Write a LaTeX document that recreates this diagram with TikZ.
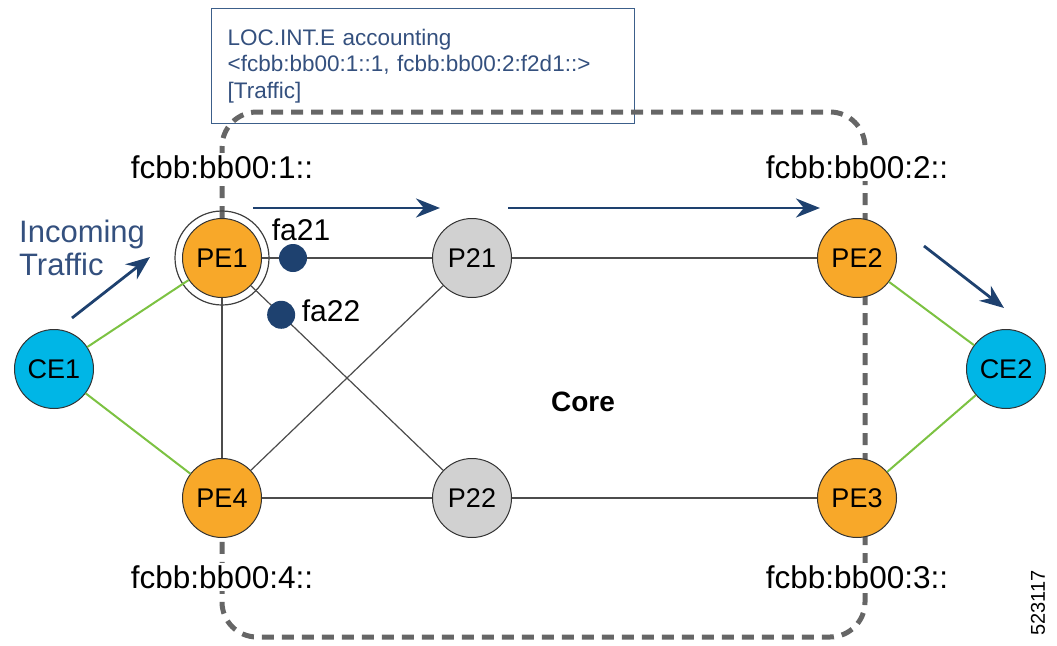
\documentclass[tikz,border=0pt]{standalone}
\usepackage{fontspec}
\setmainfont{Liberation Sans}
\usetikzlibrary{arrows.meta,calc}
\definecolor{orangeN}{HTML}{F8A829}
\definecolor{grayN}{HTML}{D1D1D1}
\definecolor{cyanN}{HTML}{00B6E6}
\definecolor{navy}{HTML}{1E416F}
\definecolor{txtB}{HTML}{34507E}
\definecolor{greenL}{HTML}{7CC242}
\definecolor{dashG}{HTML}{666666}
\definecolor{boxB}{HTML}{3C5F8A}
\begin{document}
\begin{tikzpicture}[x=1pt,y=-1pt,
  router/.style={circle, draw=black!80, line width=1pt, minimum size=79pt, inner sep=0pt, font=\fontsize{27}{30}\selectfont},
  pe/.style={router, fill=orangeN},
  pc/.style={router, fill=grayN},
  ce/.style={router, fill=cyanN},
  link/.style={draw=black!70, line width=1.2pt},
  glink/.style={draw=greenL, line width=2pt},
  flow/.style={draw=navy, line width=2.8pt, -{Stealth[length=24pt,width=19pt]}},
  addr/.style={fill=white, inner sep=2pt, font=\fontsize{31.5}{34}\selectfont},
  fdot/.style={circle, fill=navy, minimum size=28pt, inner sep=0pt},
  flabel/.style={font=\fontsize{30}{32}\selectfont, inner sep=0pt},
  coreline/.style={draw=dashG, line width=5pt, dash pattern=on 12pt off 8pt},
]
\useasboundingbox (0,0) rectangle (1057,645);

% info box
\node[draw=boxB, line width=1.3pt, anchor=north west, minimum width=423pt, minimum height=115pt,
      text width=391pt, inner xsep=16pt, align=left, text=txtB,
      font=\fontsize{22.5}{26.5}\selectfont] (box) at (211,8)
  {LOC.INT.E accounting\\\textless fcbb:bb00:1::1, fcbb:bb00:2:f2d1::\textgreater\\{[}Traffic{]}};

% core boundary
\draw[coreline, rounded corners=35pt] (222,218) -- (222,112) -- (865,112) -- (865,637) -- (222,637) -- (222,538);

% address labels
\node[addr] (a1) at (222,167) {fcbb:bb00:1::};
\node[addr] (a2) at (857,167) {fcbb:bb00:2::};
\node[addr] (a4) at (222,577) {fcbb:bb00:4::};
\node[addr] (a3) at (857,577) {fcbb:bb00:3::};

% routers
\node[ce] (CE1) at (54,369) {CE1};
\node[pe] (PE1) at (222,258) {PE1};
\node[pc] (P21) at (472,258) {P21};
\node[pe] (PE2) at (857,258) {PE2};
\node[pe] (PE4) at (222,498) {PE4};
\node[pc] (P22) at (472,498) {P22};
\node[pe] (PE3) at (857,498) {PE3};
\node[ce] (CE2) at (1006,369) {CE2};
\draw[black!75, line width=1.2pt] (PE1.center) circle (47pt);

% links
\draw[link] (PE1) -- (P21);
\draw[link] (P21) -- (PE2);
\draw[link] (PE4) -- (P22);
\draw[link] (P22) -- (PE3);
\draw[link] (PE1) -- (PE4);
\draw[link] (PE1) -- (P22);
\draw[link] (PE4) -- (P21);
\draw[glink] (CE1) -- (PE1);
\draw[glink] (CE1) -- (PE4);
\draw[glink] (PE2) -- (CE2);
\draw[glink] (PE3) -- (CE2);

% measurement points
\node[fdot] (d21) at ($(PE1.center)!71pt!(P21.center)$) {};
\node[fdot] (d22) at ($(PE1.center)!82pt!(P22.center)$) {};
\node[flabel] (t21) at (301,230) {fa21};
\node[flabel] (t22) at (331,311) {fa22};

% traffic arrows
\coordinate (i1) at (72,318);  \coordinate (i2) at (150,257);
\coordinate (h1) at (253,208); \coordinate (h2) at (440,208);
\coordinate (h3) at (508,208); \coordinate (h4) at (820,208);
\coordinate (o1) at (924,246); \coordinate (o2) at (1004,308);
\draw[flow] (i1) -- (i2);
\draw[flow] (h1) -- (h2);
\draw[flow] (h3) -- (h4);
\draw[flow] (o1) -- (o2);

\node[anchor=west, align=left, text=txtB, font=\fontsize{31}{33}\selectfont, inner sep=0pt] (inc) at (19,248) {Incoming\\Traffic};
\node[font=\bfseries\fontsize{28}{30}\selectfont] (core) at (583,402) {Core};
\node[rotate=90, font=\fontsize{20}{22}\selectfont] (fig) at (1038,603) {523117};
\end{tikzpicture}
\end{document}
